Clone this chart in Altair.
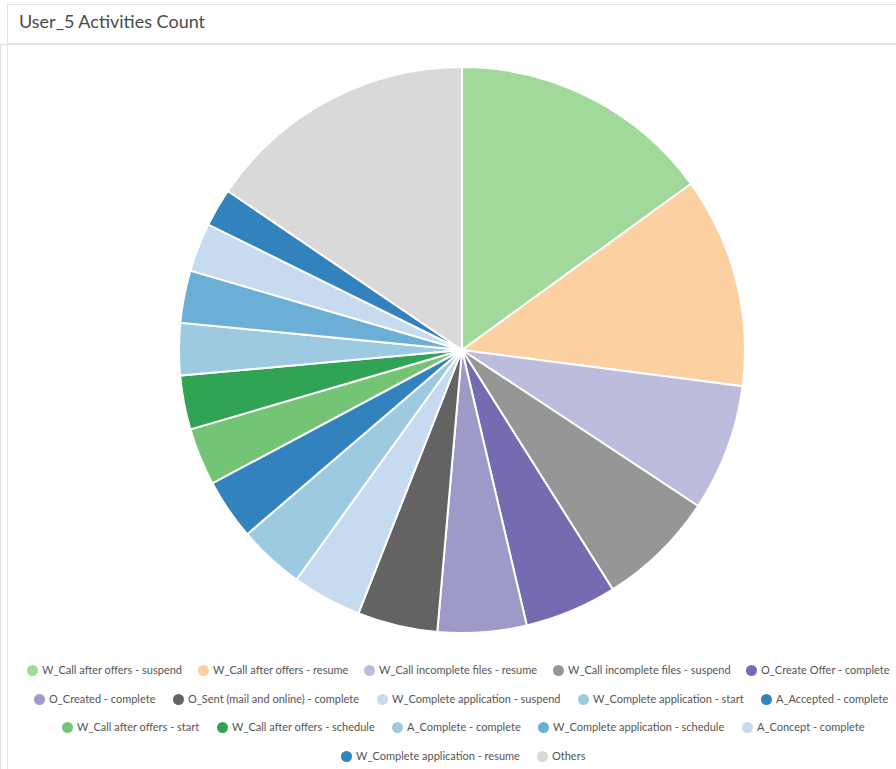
import altair as alt
import pandas as pd

activities = [
    "W_Call after offers - suspend",
    "W_Call after offers - resume",
    "W_Call incomplete files - resume",
    "W_Call incomplete files - suspend",
    "O_Create Offer - complete",
    "O_Created - complete",
    "O_Sent (mail and online) - complete",
    "W_Complete application - suspend",
    "W_Complete application - start",
    "A_Accepted - complete",
    "W_Call after offers - start",
    "W_Call after offers - schedule",
    "A_Complete - complete",
    "W_Complete application - schedule",
    "A_Concept - complete",
    "W_Complete application - resume",
    "Others",
]
counts = [151, 121, 73, 68, 53, 51, 46, 40, 38, 35, 33, 31, 30, 30, 28, 22, 156]
colors = [
    "#a1d99b", "#fdd0a2", "#bcbddc", "#969696", "#756bb1",
    "#9e9ac8", "#636363", "#c6dbef", "#9ecae1", "#3182bd",
    "#74c476", "#31a354", "#9ecae1", "#6baed6", "#c6dbef",
    "#3182bd", "#d9d9d9",
]
title_text = ["User_5 Activities Count"]
legend_rows = [activities[0:5], activities[5:10], activities[10:15], activities[15:17]]
legend_row_colors = [colors[0:5], colors[5:10], colors[10:15], colors[15:17]]

FONT = "Lato"
df = pd.DataFrame({"activity": activities, "count": counts, "idx": list(range(len(activities)))})

pie = alt.Chart(df).mark_arc(outerRadius=283, stroke="white", strokeWidth=2).encode(
    theta=alt.Theta("count:Q", stack=True),
    order=alt.Order("idx:Q"),
    color=alt.Color("activity:N", scale=alt.Scale(domain=activities, range=colors), legend=None),
    x=alt.value(462),
    y=alt.value(306),
)

legend_x = [27, 34, 62, 341]
legend_y_center = [627, 656, 684, 713]
legend_pad = [15, 17, 17, 17]

legend_layers = []
for i, (row, rc) in enumerate(zip(legend_rows, legend_row_colors)):
    sub = df[df["activity"].isin(row)]
    layer = alt.Chart(sub).mark_circle(opacity=0).encode(
        color=alt.Color(
            "activity:N",
            scale=alt.Scale(domain=row, range=rc),
            legend=alt.Legend(
                title=None,
                orient="none",
                legendX=legend_x[i],
                legendY=legend_y_center[i] - 6,
                direction="horizontal",
                symbolType="circle",
                symbolSize=121,
                symbolOpacity=1,
                symbolStrokeWidth=0,
                labelFont=FONT,
                labelFontSize=11,
                labelColor="#555555",
                labelOffset=4,
                labelLimit=0,
                columnPadding=legend_pad[i],
                padding=0,
            ),
        ),
        x=alt.value(462),
        y=alt.value(306),
    )
    legend_layers.append(layer)

one = pd.DataFrame({"k": [0]})
border_left = alt.Chart(one).mark_rule(color="#e3e3e3", strokeWidth=1).encode(
    x=alt.value(7.5), y=alt.value(-40), y2=alt.value(725)
)
border_top = alt.Chart(one).mark_rule(color="#e3e3e3", strokeWidth=1).encode(
    x=alt.value(7), x2=alt.value(896), y=alt.value(-39.5)
)
separator = alt.Chart(one).mark_rule(color="#e3e3e3", strokeWidth=1).encode(
    x=alt.value(7), x2=alt.value(896), y=alt.value(-0.5)
)
title = alt.Chart(pd.DataFrame({"t": title_text})).mark_text(
    align="left", baseline="alphabetic", font=FONT, fontSize=18, color="#4a4a4a"
).encode(text="t:N", x=alt.value(19), y=alt.value(-16))

chart = alt.layer(border_left, border_top, separator, title, pie, *legend_layers).resolve_scale(
    color="independent"
).properties(
    width=896,
    height=725,
    autosize=alt.AutoSizeParams(type="none"),
    padding={"top": 44, "left": 0, "right": 0, "bottom": 0},
).configure_view(stroke=None).configure(background="white")

chart.save("out.html", embed_options={"renderer": "svg", "actions": False})
